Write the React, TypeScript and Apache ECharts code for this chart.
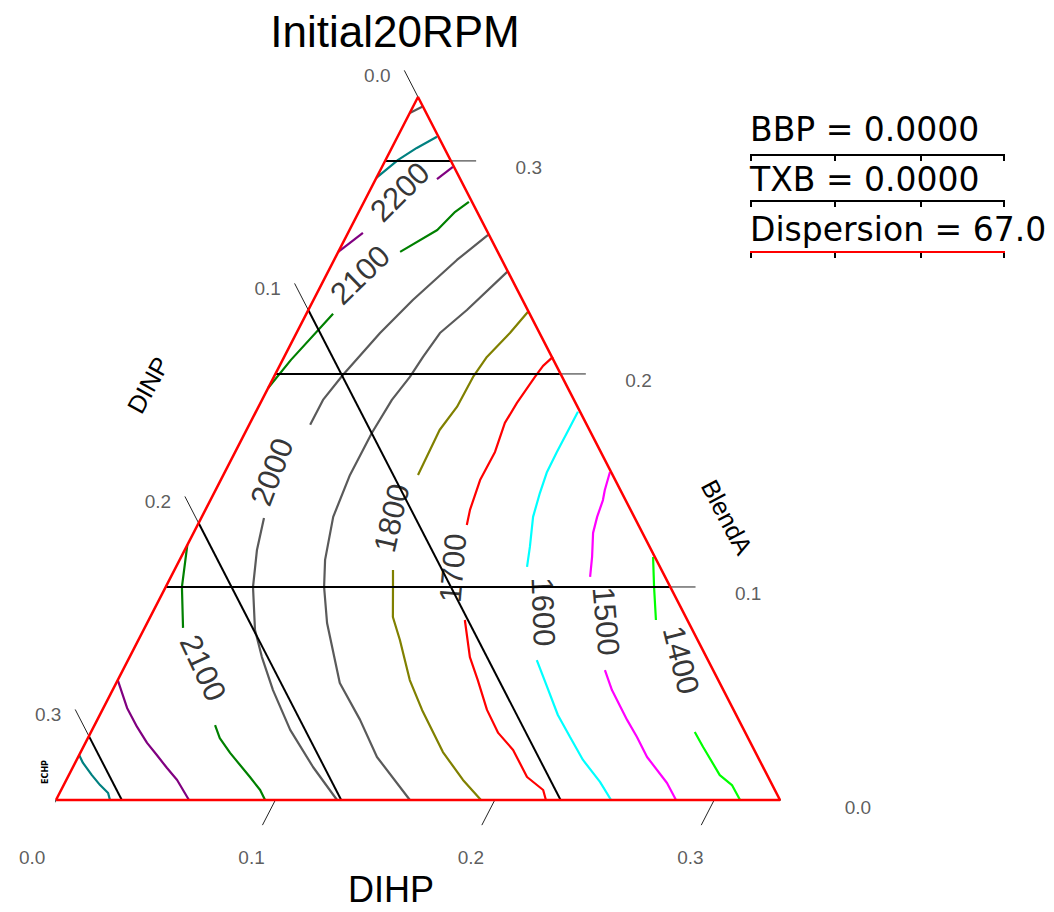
import { useEffect, useRef } from "react";
import * as echarts from "echarts";

// ---------- data (ternary compositions: [DIHP, BlendA]; DINP = TOTAL - DIHP - BlendA) ----------
const TOTAL = 0.33;
const TITLE = "Initial20RPM";
const AXIS_BOTTOM = "DIHP";
const AXIS_LEFT = "DINP";
const AXIS_RIGHT = "BlendA";
const TICK_VALUES = [0, 0.1, 0.2, 0.3];
const TICK_LABELS = ["0.0", "0.1", "0.2", "0.3"];
const GRID_VALUES = [0.1, 0.2, 0.3];
const LEGEND_LINES = ["BBP = 0.0000", "TXB = 0.0000", "Dispersion = 67.0"];

const c2400 = [[0.0, 0.3225], [0.0042, 0.3254]];
const c2300a = [[0.0, 0.292], [0.0057, 0.3005], [0.0114, 0.3061], [0.018, 0.3113]];
const c2300b = [[0.0, 0.0211], [0.0036, 0.0174], [0.0105, 0.0117], [0.0166, 0.007], [0.0221, 0.0033], [0.0246, 0]];
const c2200a = [[0.0, 0.2573], [0.0068, 0.2662]];
const c2200b = [[0.0279, 0.2915], [0.0323, 0.2972]];
const c2200c = [[0.0, 0.0563], [0.0108, 0.0432], [0.0198, 0.0343], [0.0281, 0.0268], [0.0354, 0.0211], [0.0431, 0.015], [0.0505, 0.0094], [0.0606, 0]];
const c2100a = [[0.0, 0.1934], [0.0038, 0.2066], [0.0122, 0.2282]];
const c2100b = [[0.0282, 0.2573], [0.04, 0.2676], [0.0439, 0.2761], [0.0478, 0.2808]];
const c2100c = [[0.0, 0.1197], [0.0074, 0.1], [0.0175, 0.0808]];
const c2100d = [[0.0549, 0.0352], [0.0601, 0.0291], [0.0683, 0.0221], [0.083, 0.0108], [0.0907, 0.0047], [0.0953, 0]];
const c2000a = [[0.0643, 0.2653], [0.056, 0.2535], [0.0453, 0.2347], [0.0381, 0.2192], [0.031, 0.1995], [0.0278, 0.1878], [0.0278, 0.1761]];
const c2000b = [[0.0286, 0.1324], [0.0329, 0.1174], [0.0398, 0.1], [0.0508, 0.0798], [0.0603, 0.0671], [0.0731, 0.0516], [0.0903, 0.0329], [0.1094, 0.0155], [0.1281, 0]];
const c1900 = [[0.0817, 0.2479], [0.0723, 0.23], [0.0654, 0.2192], [0.0633, 0.208], [0.062, 0.1986], [0.0592, 0.1878], [0.0578, 0.1723], [0.0577, 0.1526], [0.0599, 0.1329], [0.0663, 0.1127], [0.0722, 0.1], [0.082, 0.0831], [0.1019, 0.0549], [0.1198, 0.0376], [0.1362, 0.0202], [0.1613, 0]];
const c1800a = [[0.1005, 0.2291], [0.0973, 0.2192], [0.0924, 0.208], [0.0908, 0.1986], [0.0905, 0.1845], [0.088, 0.1737], [0.0887, 0.1526]];
const c1800b = [[0.0996, 0.108], [0.1036, 0.1], [0.1106, 0.0859], [0.1192, 0.0751], [0.1331, 0.0563], [0.1457, 0.0423], [0.1651, 0.0225], [0.1808, 0.0094], [0.1937, 0]];
const c1700a = [[0.1225, 0.208], [0.1201, 0.2038], [0.119, 0.1986], [0.1169, 0.1864], [0.1161, 0.177], [0.1184, 0.1634], [0.1182, 0.1502], [0.1206, 0.1362], [0.1227, 0.1291]];
const c1700b = [[0.1441, 0.0845], [0.1551, 0.0671], [0.1641, 0.0563], [0.1753, 0.0423], [0.1858, 0.0315], [0.1966, 0.0235], [0.2093, 0.0108], [0.2197, 0.0047], [0.2233, 0]];
const c1600a = [[0.1468, 0.1822], [0.1467, 0.1723], [0.1466, 0.1634], [0.1468, 0.154], [0.1485, 0.1441], [0.151, 0.1329], [0.1566, 0.1188], [0.16, 0.1094]];
const c1600b = [[0.1863, 0.0657], [0.1973, 0.0531], [0.2088, 0.0399], [0.2195, 0.0296], [0.2308, 0.0188], [0.2437, 0.0085], [0.253, 0]];
const c1500a = [[0.1755, 0.154], [0.1774, 0.1455], [0.1789, 0.1408], [0.1802, 0.1329], [0.1821, 0.1254], [0.1873, 0.1141], [0.1911, 0.1047]];
const c1500b = [[0.2197, 0.061], [0.2276, 0.0516], [0.2415, 0.0376], [0.25, 0.0296], [0.2593, 0.0202], [0.2745, 0.008], [0.2826, 0]];
const c1400a = [[0.2151, 0.1141], [0.2226, 0.1], [0.2312, 0.0845]];
const c1400b = [[0.2752, 0.0319], [0.2825, 0.0249], [0.2967, 0.0117], [0.3046, 0.007], [0.3118, 0]];

// contour label anchors and their levels
const LABEL_LEVELS = [2200, 2100, 2000, 1800, 1700, 1600, 1500, 1400, 2100];
const LABEL_POINTS = [
  [0.0141, 0.2854], [0.0154, 0.2465], [0.0215, 0.154], [0.0869, 0.1324], [0.1265, 0.1089],
  [0.1779, 0.0883], [0.2087, 0.084], [0.252, 0.0657], [0.036, 0.062],
];

// ---------- styles ----------
const LEVEL_COLORS: Record<number, string> = {
  2400: "#585858", 2300: "#008080", 2200: "#800080", 2100: "#008000", 2000: "#5a5a5a",
  1900: "#5a5a5a", 1800: "#808000", 1700: "#ff0000", 1600: "#00ffff", 1500: "#ff00ff", 1400: "#00ff00",
};
const CONTOURS: [number, number[][]][] = [
  [2400, c2400], [2300, c2300a], [2300, c2300b], [2200, c2200a], [2200, c2200b], [2200, c2200c],
  [2100, c2100a], [2100, c2100b], [2100, c2100c], [2100, c2100d], [2000, c2000a], [2000, c2000b],
  [1900, c1900], [1800, c1800a], [1800, c1800b], [1700, c1700a], [1700, c1700b], [1600, c1600a],
  [1600, c1600b], [1500, c1500a], [1500, c1500b], [1400, c1400a], [1400, c1400b],
];
const LABEL_ROTATIONS = [45, 44, 69, 77, 85, -88, -85, -76, -65];

const toXY = (p: number[]) => [p[0] + p[1] / 2, p[1]];
const EXT = 0.0118;

function line(pts: number[][], color: string, width: number) {
  return {
    type: "line",
    data: pts.map(toXY),
    symbol: "none",
    showSymbol: false,
    clip: false,
    silent: true,
    animation: false,
    lineStyle: { color, width },
  };
}

function labels(items: { p: number[]; text: string; rotate?: number; offset?: number[] }[], font: any) {
  return {
    type: "scatter",
    symbolSize: 0,
    clip: false,
    silent: true,
    animation: false,
    data: items.map((it) => ({
      value: toXY(it.p),
      label: {
        show: true,
        position: "inside",
        formatter: it.text,
        rotate: it.rotate || 0,
        offset: it.offset || [0, 0],
        ...font,
      },
    })),
  };
}

function buildOption() {
  const series: any[] = [];
  CONTOURS.forEach(([lvl, pts]) => series.push(line(pts, LEVEL_COLORS[lvl], 2.2)));

  // grid lines
  GRID_VALUES.forEach((b) => series.push(line([[0, b], [TOTAL - b, b]], "#000", 2)));
  GRID_VALUES.forEach((c) => series.push(line([[0, TOTAL - c], [TOTAL - c, 0]], "#000", 2)));
  // tick extensions
  TICK_VALUES.forEach((b) => series.push(line([[TOTAL - b, b], [TOTAL - b + 0.0115, b]], "#222", 1)));
  TICK_VALUES.forEach((c) => series.push(line([[0, TOTAL - c], [-0.0125, TOTAL - c + 0.0125]], "#222", 1)));
  TICK_VALUES.forEach((a) => series.push(line([[a, 0], [a, -EXT]], "#222", 1)));

  // triangle
  series.push(line([[0, 0], [TOTAL, 0], [0, TOTAL], [0, 0]], "#ff0000", 2.5));

  const tickFont = { fontFamily: "Liberation Sans", fontSize: 19, color: "#333" };
  series.push(labels(TICK_VALUES.map((a, i) => ({ p: [a, -0.0272], text: TICK_LABELS[i], offset: [6, 0] })), tickFont));
  series.push(labels(TICK_VALUES.map((b, i) => ({ p: [TOTAL - b + 0.0355, b], text: TICK_LABELS[i], offset: [0, 7] })), tickFont));
  series.push(labels(TICK_VALUES.map((c, i) => ({ p: [-0.0125, TOTAL - c + 0.0125], text: TICK_LABELS[i], offset: [-27, 5] })), tickFont));

  series.push(
    labels(
      LABEL_POINTS.map((p, i) => ({ p, text: String(LABEL_LEVELS[i]), rotate: LABEL_ROTATIONS[i] })),
      { fontFamily: "Liberation Sans", fontSize: 31, color: "#000" }
    )
  );

  const txt = (text: string, x: number, y: number, font: string, rot = 0, align = "center", fill = "#000") => ({
    type: "text",
    x,
    y,
    rotation: (rot * Math.PI) / 180,
    silent: true,
    style: { text, font, fill, align, verticalAlign: "middle", textAlign: align, textVerticalAlign: "middle" },
  });
  const seg = (x1: number, y1: number, x2: number, y2: number, stroke: string, w = 2) => ({
    type: "line",
    silent: true,
    shape: { x1, y1, x2, y2 },
    style: { stroke, lineWidth: w },
  });

  const graphic: any[] = [
    txt(TITLE, 395, 31, "44px 'Liberation Sans'"),
    txt(AXIS_BOTTOM, 391, 889, "36px 'Liberation Sans'"),
    txt(AXIS_LEFT, 148, 385, "25px 'Liberation Sans'", 61),
    txt(AXIS_RIGHT, 727, 517, "25px 'Liberation Sans'", -62),
    txt("ECHP", 45, 772, "bold 8px 'DejaVu Sans'", 90),
  ];
  const legendY = [129.5, 179.5, 229];
  const lineY = [155, 201, 252];
  LEGEND_LINES.forEach((t, i) => {
    graphic.push(txt(t, 750, legendY[i], "33px 'DejaVu Sans'", 0, "left"));
    graphic.push(seg(750, lineY[i], 1005, lineY[i], i === 2 ? "#ff0000" : "#000"));
    [751, 835, 921, 1004].forEach((x) => graphic.push(seg(x, lineY[i] + 1, x, lineY[i] + 6, "#000", 2)));
  });

  return {
    animation: false,
    backgroundColor: "#fff",
    grid: { left: 56, top: 97, width: 724, height: 703 },
    xAxis: { type: "value", min: 0, max: TOTAL, show: false },
    yAxis: { type: "value", min: 0, max: TOTAL, show: false },
    series,
    graphic,
  };
}

export default function App() {
  const ref = useRef<HTMLDivElement>(null);
  useEffect(() => {
    const chart = echarts.init(ref.current!, null, { renderer: "svg" });
    chart.setOption(buildOption() as any);
    return () => chart.dispose();
  }, []);
  return (
    <div
      ref={ref}
      style={{ position: "absolute", left: 0, top: 0, width: 1054, height: 912, background: "#fff" }}
    />
  );
}
